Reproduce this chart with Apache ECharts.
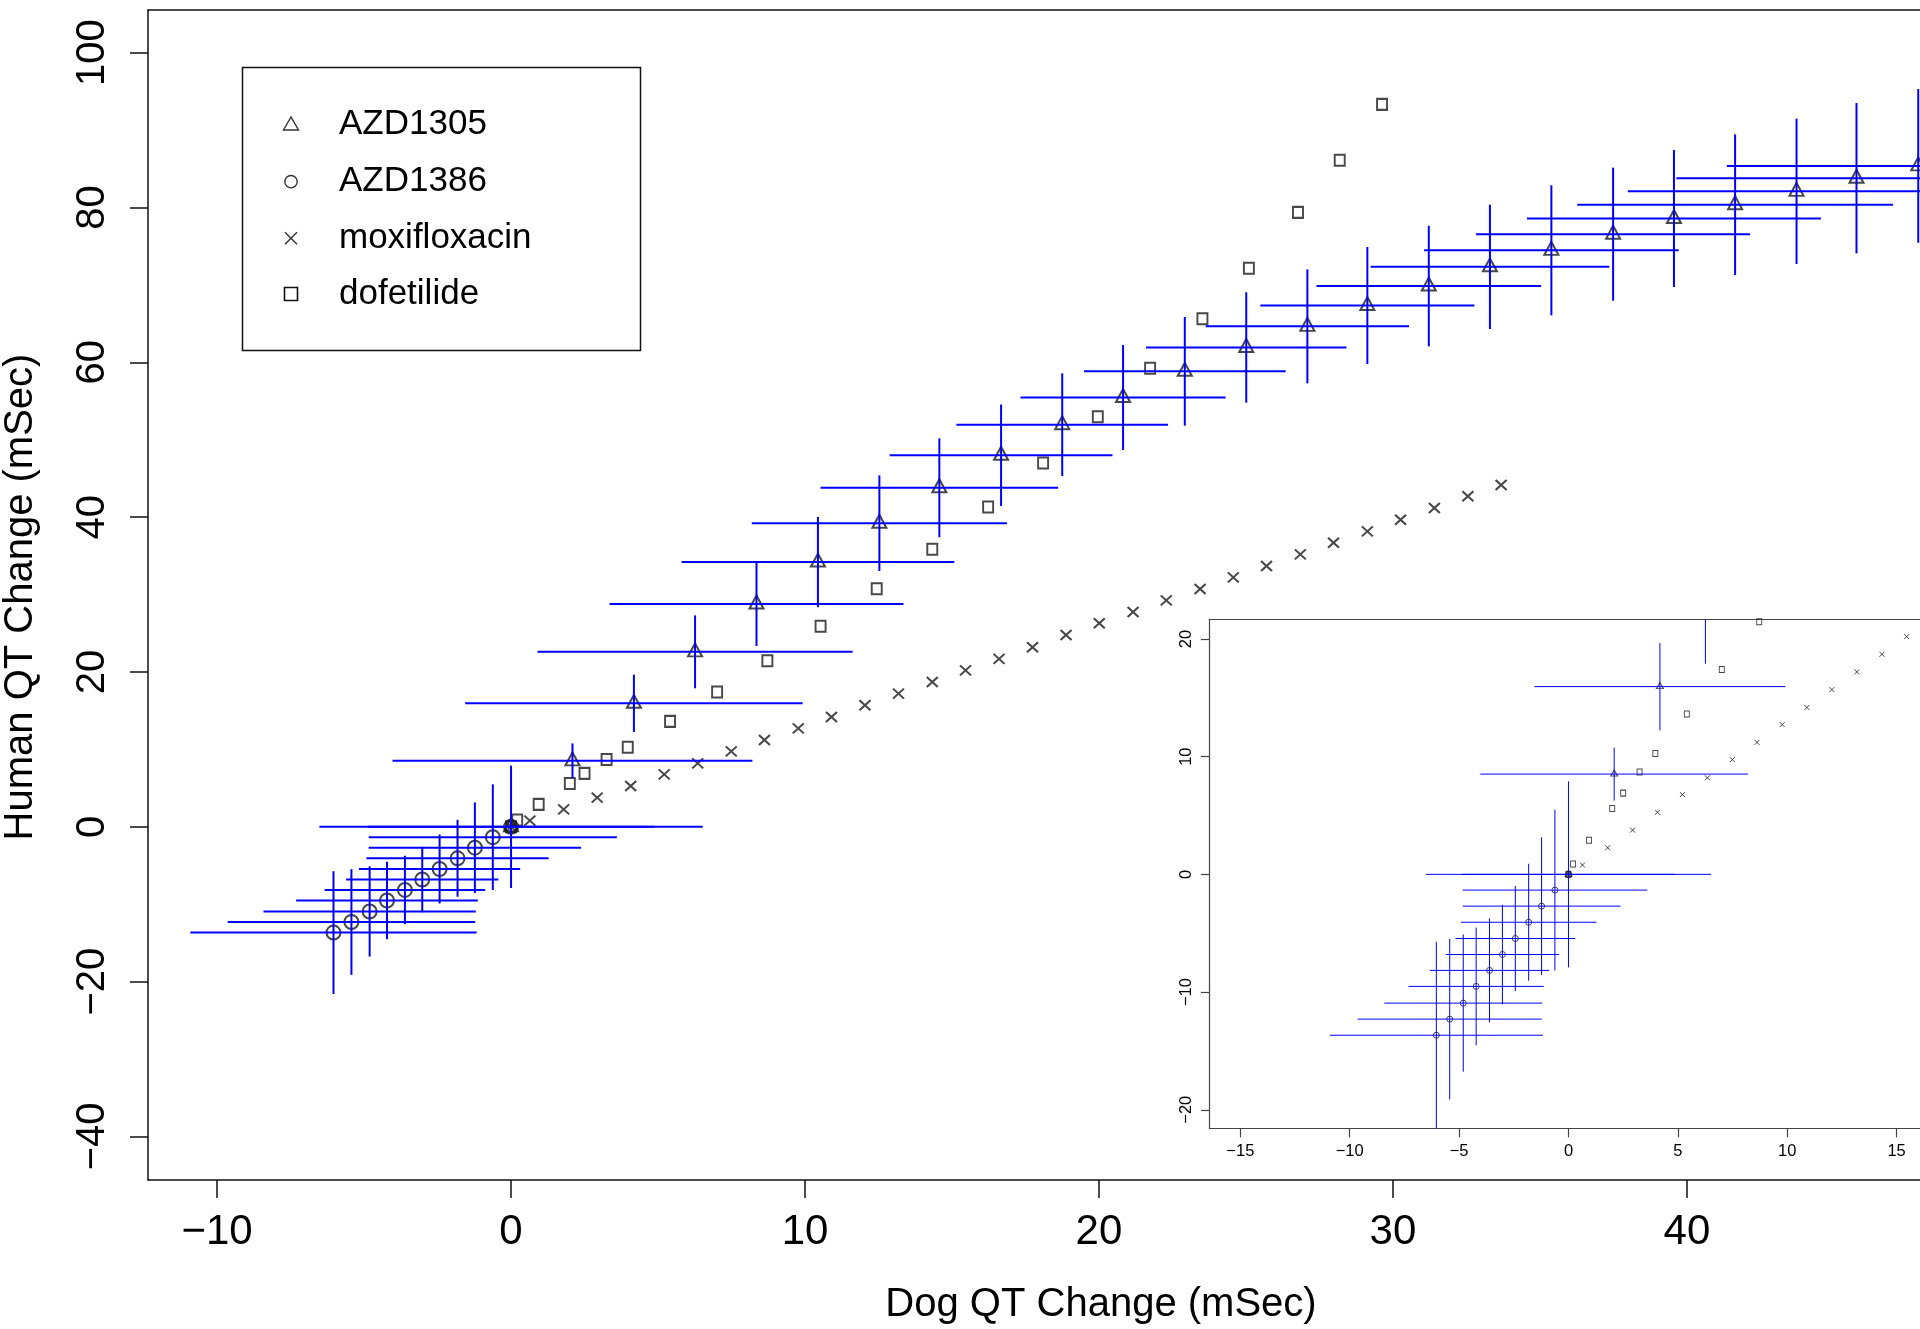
<!DOCTYPE html>
<html>
<head>
<meta charset="utf-8">
<title>Dog vs Human QT Change</title>
<script src="https://cdn.jsdelivr.net/npm/echarts@6/dist/echarts.min.js"></script>
<style>
  html, body { margin: 0; padding: 0; background: #fff; }
  #chart { width: 1920px; height: 1329px; }
</style>
</head>
<body>
<div id="chart"></div>
<script>
// AZD1305: dog vs human QT change, with half-widths of the bounds in each direction
const azd1305Dog      = [0, 2.09, 4.18, 6.26, 8.35, 10.44, 12.53, 14.57, 16.67, 18.75, 20.82, 22.92, 25.01, 27.09, 29.13, 31.22, 33.3, 35.39, 37.49, 39.56, 41.64, 43.73, 45.77, 47.87];
const azd1305Human    = [0, 8.52, 15.95, 22.6, 28.78, 34.2, 39.22, 43.8, 48.0, 51.95, 55.46, 58.84, 61.92, 64.65, 67.34, 69.86, 72.34, 74.47, 76.56, 78.58, 80.37, 82.09, 83.79, 85.38];
const azd1305DogErr   = [6.52, 6.12, 5.74, 5.36, 5.0, 4.64, 4.34, 4.04, 3.79, 3.6, 3.49, 3.43, 3.41, 3.46, 3.64, 3.82, 4.06, 4.33, 4.66, 5.0, 5.37, 5.74, 6.13, 6.51];
const azd1305HumanErr = [0, 2.25, 3.7, 4.71, 5.43, 5.83, 6.18, 6.39, 6.55, 6.63, 6.78, 7.02, 7.13, 7.36, 7.56, 7.79, 8.03, 8.4, 8.59, 8.85, 9.09, 9.39, 9.71, 9.93];

// AZD1386
const azd1386Dog      = [-6.04, -5.43, -4.81, -4.22, -3.61, -3.02, -2.43, -1.82, -1.23, -0.62, 0];
const azd1386Human    = [-13.67, -12.3, -10.94, -9.52, -8.16, -6.81, -5.45, -4.07, -2.7, -1.34, 0];
const azd1386DogErr   = [4.87, 4.21, 3.61, 3.09, 2.73, 2.59, 2.74, 3.1, 3.61, 4.22, 4.87];
const azd1386HumanErr = [7.93, 6.83, 5.83, 5.0, 4.42, 4.23, 4.46, 4.97, 5.85, 6.83, 7.9];

// moxifloxacin
const moxiDog   = [0, 0.64, 1.79, 2.93, 4.07, 5.21, 6.35, 7.49, 8.62, 9.77, 10.9, 12.04, 13.18, 14.33, 15.46, 16.6, 17.74, 18.88, 20.01, 21.16, 22.29, 23.44, 24.57, 25.7, 26.85, 27.98, 29.13, 30.26, 31.41, 32.55, 33.68];
const moxiHuman = [0, 0.79, 2.26, 3.76, 5.27, 6.78, 8.2, 9.75, 11.21, 12.72, 14.18, 15.7, 17.2, 18.7, 20.2, 21.7, 23.2, 24.78, 26.29, 27.75, 29.26, 30.72, 32.23, 33.69, 35.2, 36.7, 38.17, 39.67, 41.18, 42.7, 44.15];

// dofetilide
const dofeDog   = [0, 0.21, 0.94, 2.0, 2.5, 3.25, 3.97, 5.41, 7.01, 8.72, 10.53, 12.44, 14.33, 16.23, 18.1, 19.96, 21.74, 23.52, 25.1, 26.77, 28.19, 29.63];
const dofeHuman = [0, 0.88, 2.9, 5.6, 6.9, 8.7, 10.27, 13.62, 17.41, 21.46, 25.9, 30.76, 35.85, 41.31, 47.0, 52.98, 59.23, 65.64, 72.15, 79.38, 86.1, 93.33];

// tick positions
const mainXTicks  = [-10, 0, 10, 20, 30, 40];
const mainYTicks  = [-40, -20, 0, 20, 40, 60, 80, 100];
const insetXTicks = [-15, -10, -5, 0, 5, 10, 15];
const insetYTicks = [-20, -10, 0, 10, 20];

const seriesNames = ['AZD1305', 'AZD1386', 'moxifloxacin', 'dofetilide'];

const FONT = '"Liberation Sans", Arial, Helvetica, sans-serif';
const BLUE = '#0000ff';
const INK = '#1a1a1a';
const CROSS = 'path://M0,0L10,10M10,0L0,10';

const minusFmt = v => (v < 0 ? '\u2212' + Math.abs(v) : String(v));
const zip2 = (a, b) => a.map((v, i) => [v, b[i]]);
const zip4 = (a, b, c, d) => a.map((v, i) => [v, b[i], c[i], d[i]]);

// horizontal + vertical bound segments around each point
function boundsRenderer(width) {
  return function (params, api) {
    const x = api.value(0), y = api.value(1), dx = api.value(2), dy = api.value(3);
    const style = { stroke: BLUE, lineWidth: width, fill: null };
    const kids = [];
    if (dx > 0) {
      const a = api.coord([x - dx, y]), b = api.coord([x + dx, y]);
      kids.push({ type: 'line', shape: { x1: a[0], y1: a[1], x2: b[0], y2: b[1] }, style });
    }
    if (dy > 0) {
      const a = api.coord([x, y - dy]), b = api.coord([x, y + dy]);
      kids.push({ type: 'line', shape: { x1: a[0], y1: a[1], x2: b[0], y2: b[1] }, style });
    }
    return { type: 'group', children: kids };
  };
}

function boundsSeries(xi, yi, data, width) {
  return {
    type: 'custom', xAxisIndex: xi, yAxisIndex: yi, clip: true, z: 4,
    renderItem: boundsRenderer(width), data, silent: true,
    encode: { x: 0, y: 1 }
  };
}

function markerSeries(name, xi, yi, data, symbol, size, lw, offset) {
  return {
    name, type: 'scatter', xAxisIndex: xi, yAxisIndex: yi, clip: true, z: 3,
    symbol, symbolSize: size, symbolOffset: offset || [0, 0], data, silent: true,
    itemStyle: { color: 'rgba(0,0,0,0)', borderColor: INK, borderWidth: lw }
  };
}

function buildSeries(xi, yi, big) {
  const lw = big ? 2 : 1;
  return [
    markerSeries(seriesNames[0], xi, yi, zip2(azd1305Dog, azd1305Human), 'triangle', big ? [14, 13] : [7, 6], lw, big ? [0, -2] : [0, -1]),
    markerSeries(seriesNames[1], xi, yi, zip2(azd1386Dog, azd1386Human), 'circle', big ? 14 : 6, lw),
    markerSeries(seriesNames[2], xi, yi, zip2(moxiDog, moxiHuman), CROSS, big ? [11, 10] : [5, 5], lw),
    markerSeries(seriesNames[3], xi, yi, zip2(dofeDog, dofeHuman), 'rect', big ? [10, 11] : [5, 6], lw),
    boundsSeries(xi, yi, zip4(azd1305Dog, azd1305Human, azd1305DogErr, azd1305HumanErr), big ? 2 : 1),
    boundsSeries(xi, yi, zip4(azd1386Dog, azd1386Human, azd1386DogErr, azd1386HumanErr), big ? 2 : 1)
  ];
}

const mainLine = { show: true, onZero: false, lineStyle: { color: '#111', width: 1.5 } };
const insetLine = { show: true, onZero: false, lineStyle: { color: '#444', width: 1.2 } };

function frameAxis(gridIndex, min, max, pos, line) {
  return {
    gridIndex, type: 'value', min, max, position: pos,
    axisLine: line, axisTick: { show: false }, axisLabel: { show: false }, splitLine: { show: false }
  };
}

// legend glyphs and entries
const legendRows = [124, 181.7, 238.3, 294];
const glyphStyle = { fill: null, stroke: '#333', lineWidth: 1.4 };
const legendGraphics = [
  { type: 'rect', shape: { x: 242.5, y: 67.5, width: 398, height: 283 },
    style: { fill: '#fff', stroke: '#111', lineWidth: 1.5 }, z: 20 },
  { type: 'polygon', shape: { points: [[291, legendRows[0] - 7], [283.5, legendRows[0] + 6], [298.5, legendRows[0] + 6]] },
    style: glyphStyle, z: 21 },
  { type: 'circle', shape: { cx: 291, cy: legendRows[1], r: 6.2 }, style: glyphStyle, z: 21 },
  { type: 'line', shape: { x1: 285, y1: legendRows[2] - 6, x2: 297, y2: legendRows[2] + 6 }, style: glyphStyle, z: 21 },
  { type: 'line', shape: { x1: 297, y1: legendRows[2] - 6, x2: 285, y2: legendRows[2] + 6 }, style: glyphStyle, z: 21 },
  { type: 'rect', shape: { x: 284.5, y: legendRows[3] - 6.5, width: 13, height: 13 },
    style: { fill: null, stroke: '#111', lineWidth: 1.6 }, z: 21 }
].concat(seriesNames.map((n, i) => ({
  type: 'text', x: 339, y: legendRows[i], z: 21,
  style: { text: n, fontSize: 35, fontFamily: FONT, fill: '#000', align: 'left', verticalAlign: 'middle' }
})));

const option = {
  animation: false,
  backgroundColor: '#fff',
  grid: [
    { left: 148, top: 10, right: 0, height: 1170 },
    { left: 1209.5, top: 619.3, right: 0, height: 509.4, show: true, backgroundColor: '#fff', borderWidth: 0, z: 5 }
  ],
  xAxis: [
    {
      gridIndex: 0, type: 'value', min: -12.35, max: 47.93, position: 'bottom',
      axisLine: mainLine,
      axisTick: { show: true, customValues: mainXTicks, length: 18, lineStyle: { color: '#111', width: 1.5 } },
      axisLabel: { customValues: mainXTicks, formatter: minusFmt, fontSize: 42, fontFamily: FONT, color: '#000', margin: 31 },
      splitLine: { show: false }
    },
    frameAxis(0, -12.35, 47.93, 'top', mainLine),
    {
      gridIndex: 1, type: 'value', min: -16.41, max: 16.07, position: 'bottom', z: 6,
      axisLine: insetLine,
      axisTick: { show: true, customValues: insetXTicks, length: 8.6, lineStyle: { color: '#444', width: 1.2 } },
      axisLabel: { customValues: insetXTicks, formatter: minusFmt, fontSize: 16.5, fontFamily: FONT, color: '#000', margin: 14 },
      splitLine: { show: false }
    },
    Object.assign(frameAxis(1, -16.41, 16.07, 'top', insetLine), { z: 6 })
  ],
  yAxis: [
    {
      gridIndex: 0, type: 'value', min: -45.63, max: 105.52, position: 'left',
      axisLine: mainLine,
      axisTick: { show: true, customValues: mainYTicks, length: 18, lineStyle: { color: '#111', width: 1.5 } },
      axisLabel: { customValues: mainYTicks, formatter: minusFmt, rotate: 90, fontSize: 40, fontFamily: FONT, color: '#000', margin: 35 },
      splitLine: { show: false }
    },
    {
      gridIndex: 1, type: 'value', min: -21.61, max: 21.67, position: 'left', z: 6,
      axisLine: insetLine,
      axisTick: { show: true, customValues: insetYTicks, length: 8.6, lineStyle: { color: '#444', width: 1.2 } },
      axisLabel: { customValues: insetYTicks, formatter: minusFmt, rotate: 90, fontSize: 16.5, fontFamily: FONT, color: '#000', margin: 15 },
      splitLine: { show: false }
    }
  ],
  graphic: legendGraphics.concat([
    { type: 'text', x: 1101, y: 1305, z: 21,
      style: { text: 'Dog QT Change (mSec)', fontSize: 40, fontFamily: FONT, fill: '#000', align: 'center', verticalAlign: 'middle' } },
    { type: 'text', x: 21, y: 597, rotation: Math.PI / 2, z: 21,
      style: { text: 'Human QT Change (mSec)', fontSize: 40, fontFamily: FONT, fill: '#000', align: 'center', verticalAlign: 'middle' } }
  ]),
  series: buildSeries(0, 0, true).concat(
    buildSeries(2, 1, false).map(s => Object.assign(s, { z: s.z + 10 }))
  )
};

const chart = echarts.init(document.getElementById('chart'), null, { renderer: 'canvas' });
chart.setOption(option);
</script>
</body>
</html>
